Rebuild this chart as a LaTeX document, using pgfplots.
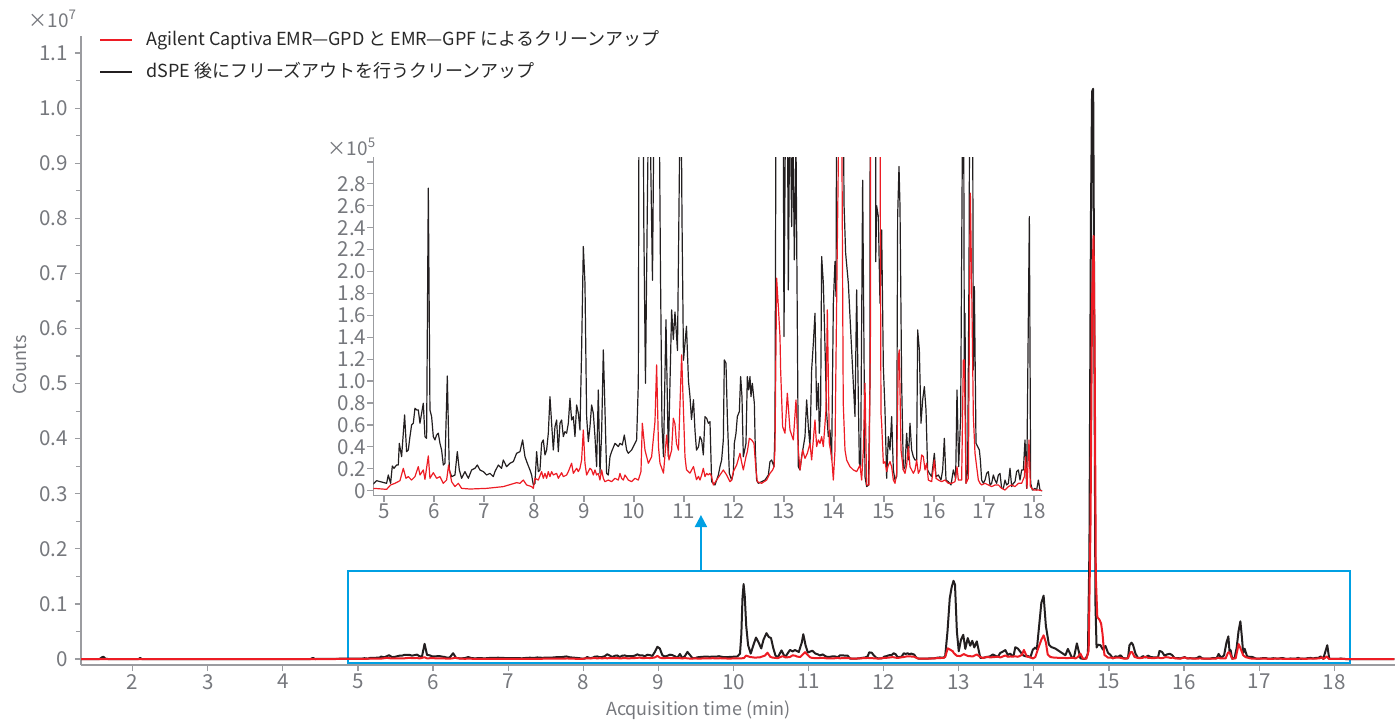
\documentclass[border=0pt]{standalone}
\usepackage{pgfplots}
\pgfplotsset{compat=1.18}
\usepackage{pgfplotstable}
\usepackage{fontspec}
\setmainfont{Noto Sans CJK JP}
\usetikzlibrary{arrows.meta}

\definecolor{chromred}{RGB}{237,28,36}
\definecolor{chromblack}{RGB}{35,31,32}
\definecolor{framecyan}{RGB}{0,160,227}
\definecolor{axisgray}{RGB}{155,156,160}
\definecolor{labelgray}{RGB}{118,120,125}
\definecolor{legendtext}{RGB}{40,40,40}

% dSPE + freeze-out clean-up (counts vs. minutes)
\pgfplotstableread{
t v
1.31 0
1.56 0
1.59 30000
1.61 40000
1.64 5000
1.67 0
2.08 0
2.10 20000
2.12 0
4.37 0
4.40 20000
4.43 0
4.70 3000
4.800 6700
4.853 9100
4.953 7900
5.053 6700
5.087 14300
5.133 6700
5.167 22500
5.200 20400
5.253 23400
5.287 23400
5.307 43200
5.353 31000
5.413 69100
5.453 35600
5.487 37100
5.520 49300
5.553 60000
5.587 61500
5.620 75200
5.653 73700
5.687 73700
5.720 61500
5.753 70600
5.787 79800
5.820 49300
5.853 47800
5.887 276100
5.920 73700
5.953 67600
5.987 49300
6.020 46300
6.053 50800
6.087 52400
6.120 43200
6.153 37100
6.187 23400
6.220 25000
6.267 104700
6.307 18900
6.353 12800
6.420 14300
6.467 35600
6.507 18900
6.553 11300
6.620 17400
6.687 11300
6.753 18900
6.820 20400
6.867 23400
6.920 18900
6.987 17400
7.053 14300
7.120 15800
7.187 12800
7.220 17400
7.287 23400
7.353 20400
7.387 28000
7.453 21900
7.520 25000
7.587 26500
7.653 34100
7.720 35600
7.773 46300
7.820 31000
7.867 25000
7.920 18900
7.953 14300
7.987 5200
8.020 6700
8.053 35600
8.087 17400
8.120 18900
8.153 43200
8.187 46300
8.220 32600
8.253 37100
8.287 52400
8.320 85800
8.353 61500
8.387 37100
8.420 58400
8.453 64500
8.487 35600
8.520 61500
8.553 64500
8.587 49300
8.620 53900
8.653 52400
8.687 61500
8.720 84300
8.753 64500
8.787 67600
8.820 49300
8.853 78200
8.887 70600
8.920 55400
8.953 128500
8.987 222800
9.020 189300
9.053 67600
9.087 44700
9.120 58400
9.153 78200
9.187 70600
9.220 49300
9.253 21900
9.287 91900
9.320 15800
9.353 52400
9.387 128500
9.420 73700
9.453 15800
9.487 14300
9.520 31000
9.553 35600
9.620 43200
9.687 40200
9.720 43200
9.767 41700
9.807 50800
9.853 37100
9.887 34100
9.953 37100
10.020 43200
10.053 46300
10.087 98000
10.105 450000
10.120 1100000
10.135 1360000
10.150 1150000
10.170 600000
10.195 250000
10.230 98000
10.265 250000
10.300 390000
10.335 300000
10.370 192000
10.400 350000
10.440 470000
10.470 400000
10.500 380000
10.530 200000
10.560 60000
10.590 31000
10.640 156000
10.687 31000
10.753 165000
10.787 138000
10.820 163000
10.870 128000
10.910 300000
10.930 450000
10.960 250000
10.990 119000
11.050 150000
11.090 100000
11.120 86000
11.150 65000
11.190 83000
11.220 55000
11.250 37000
11.290 40000
11.320 49300
11.353 46300
11.387 32600
11.420 67600
11.453 66100
11.487 61500
11.520 63000
11.553 8200
11.587 6700
11.620 5200
11.653 9700
11.687 14300
11.720 21900
11.753 28000
11.787 46300
11.807 119300
11.840 116300
11.867 67600
11.907 15800
11.953 9700
11.987 15800
12.007 43200
12.040 52400
12.067 67600
12.107 72100
12.133 104100
12.160 85800
12.187 31000
12.240 43200
12.267 104100
12.293 91900
12.320 104100
12.340 85800
12.367 98000
12.387 88900
12.407 79800
12.427 37100
12.453 9700
12.487 6700
12.553 8200
12.620 9700
12.687 14300
12.720 26500
12.753 28000
12.800 21900
12.820 58400
12.850 500000
12.880 1100000
12.905 1300000
12.930 1420000
12.950 1350000
12.975 500000
13.000 140600
13.030 350000
13.060 440000
13.087 183200
13.120 380000
13.153 241000
13.180 330000
13.207 210600
13.240 320000
13.287 21900
13.320 18900
13.353 31000
13.387 40200
13.420 49300
13.453 82800
13.487 58400
13.520 40200
13.553 110200
13.587 134500
13.620 161900
13.653 73700
13.687 98000
13.707 52400
13.733 76700
13.753 213700
13.787 189300
13.820 131500
13.853 70600
13.887 49300
13.920 55400
13.953 28000
13.987 171100
14.020 209100
14.040 177200
14.070 600000
14.100 1020000
14.130 1150000
14.160 600000
14.200 262400
14.233 216700
14.287 189300
14.353 128500
14.420 67600
14.453 183200
14.507 25000
14.533 21900
14.573 283300
14.620 12800
14.653 3700
14.690 5000
14.720 100000
14.740 2000000
14.760 8000000
14.775 10300000
14.790 10350000
14.805 6000000
14.820 1000000
14.835 209000
14.853 260000
14.887 250000
14.920 171000
14.953 238000
14.987 113000
15.020 73700
15.053 11300
15.087 49300
15.120 37100
15.153 67600
15.187 18900
15.220 9700
15.253 12800
15.273 250200
15.300 295900
15.320 259300
15.353 98000
15.387 18900
15.420 21900
15.453 52400
15.487 28000
15.520 61500
15.553 37100
15.587 31000
15.620 28000
15.653 28000
15.673 146700
15.707 128500
15.740 61500
15.773 82800
15.807 95000
15.840 73700
15.873 18900
15.907 15800
15.953 12800
16.007 34100
16.040 12800
16.087 14300
16.140 9700
16.173 18900
16.207 47800
16.240 9700
16.287 8200
16.340 5200
16.387 18900
16.433 11300
16.460 91900
16.493 21900
16.533 67600
16.565 300000
16.590 410000
16.607 110200
16.620 161900
16.640 6700
16.673 18900
16.700 200000
16.725 500000
16.750 685000
16.770 400000
16.787 110200
16.807 186300
16.840 43200
16.873 40200
16.907 37100
16.927 28000
16.953 9700
16.987 6700
17.020 9700
17.053 15800
17.087 17400
17.120 5200
17.153 6700
17.187 14300
17.220 9700
17.253 6700
17.287 14300
17.320 15800
17.353 2100
17.387 2100
17.420 9700
17.453 5200
17.487 6700
17.520 20400
17.553 3700
17.587 6700
17.620 8200
17.653 17400
17.687 18900
17.720 9700
17.753 18900
17.787 18900
17.820 46300
17.853 2100
17.887 158900
17.907 250200
17.933 6700
17.967 600
18.020 2100
18.053 600
18.087 9700
18.120 600
18.153 0
18.300 0
18.800 0
}\blacktrace

% Captiva EMR-GPD + EMR-GPF clean-up (counts vs. minutes)
\pgfplotstableread{
t v
1.31 0
4.70 0
4.800 2100
5.053 1200
5.133 5200
5.220 6700
5.320 9100
5.387 20400
5.440 11300
5.487 12800
5.553 9700
5.620 12800
5.687 21900
5.720 14300
5.787 18900
5.820 10300
5.887 31700
5.920 11300
5.987 16400
6.053 11300
6.120 12800
6.187 6700
6.253 9700
6.293 23400
6.353 8200
6.420 3700
6.487 6700
6.553 2100
6.720 1500
7.053 2100
7.387 3700
7.653 7300
7.720 6700
7.787 9700
7.853 5200
7.953 3700
7.987 2100
8.020 11300
8.087 9700
8.153 17400
8.187 11300
8.220 15800
8.253 11300
8.287 17400
8.320 12800
8.353 17400
8.387 14300
8.453 15800
8.487 11300
8.553 16400
8.587 12800
8.653 14300
8.687 17400
8.753 25000
8.787 15800
8.853 20400
8.887 17400
8.920 20400
8.953 28000
8.987 55400
9.020 25000
9.053 14300
9.120 20400
9.153 18900
9.187 14300
9.220 18900
9.253 14300
9.287 15800
9.320 9700
9.353 18900
9.387 11300
9.420 8200
9.487 9700
9.553 8200
9.620 11300
9.687 9700
9.720 15800
9.753 11300
9.787 9700
9.820 14300
9.887 9700
9.953 8200
10.020 11300
10.087 9700
10.140 17400
10.167 61500
10.220 37100
10.287 25000
10.353 31000
10.420 63000
10.453 114800
10.490 40000
10.520 25000
10.590 16000
10.653 50800
10.700 28000
10.753 37000
10.787 66100
10.820 61000
10.850 43000
10.890 37000
10.953 124000
11.020 31000
11.050 19000
11.120 16000
11.190 22000
11.250 10000
11.290 13000
11.320 9700
11.353 14300
11.387 20400
11.420 12800
11.453 15800
11.487 14300
11.520 15800
11.553 12800
11.587 5200
11.653 9700
11.720 14300
11.787 18900
11.853 14300
11.920 8200
11.953 9700
11.987 17400
12.053 23400
12.120 34100
12.153 25900
12.187 18900
12.240 31000
12.267 35600
12.307 47800
12.353 46300
12.400 43200
12.440 18900
12.467 8200
12.553 6700
12.653 9700
12.720 15800
12.773 18900
12.800 21900
12.820 37100
12.853 193900
12.887 168000
12.920 140600
12.933 110200
12.973 58400
13.020 52400
13.067 88900
13.120 55400
13.187 46300
13.240 82800
13.287 37100
13.320 18900
13.373 37100
13.420 29500
13.467 34100
13.520 43200
13.553 28000
13.620 64500
13.653 40200
13.687 46300
13.720 43200
13.753 49300
13.787 40200
13.840 73700
13.867 165000
13.907 43200
13.953 31000
13.987 9700
14.020 37100
14.060 200000
14.100 350000
14.130 430000
14.160 300000
14.185 80000
14.220 37100
14.253 28000
14.320 21900
14.387 18900
14.453 17400
14.520 23400
14.553 9700
14.587 37100
14.620 98000
14.653 5200
14.700 5200
14.730 150000
14.755 2500000
14.775 6500000
14.795 7680000
14.810 5500000
14.825 1500000
14.845 760000
14.870 720000
14.895 650000
14.915 450000
14.930 200000
14.940 70600
14.953 61500
14.987 25000
15.020 26500
15.053 17400
15.087 23400
15.120 26500
15.153 21900
15.187 9700
15.220 6700
15.253 15800
15.287 122400
15.307 128500
15.340 37100
15.387 18900
15.420 15800
15.453 23400
15.487 40200
15.520 21900
15.553 18900
15.587 15800
15.620 18900
15.653 28000
15.687 15800
15.720 18900
15.753 32600
15.787 31000
15.820 18900
15.853 25000
15.887 9700
15.953 8200
16.007 28000
16.040 11300
16.087 9700
16.153 8200
16.220 9700
16.287 6700
16.353 6700
16.420 8200
16.460 21900
16.487 9700
16.553 9700
16.587 119300
16.607 119300
16.640 6700
16.687 11300
16.727 271500
16.753 189300
16.787 67600
16.820 34100
16.853 21900
16.887 9700
16.920 6700
16.953 5200
17.020 6700
17.087 5200
17.153 3700
17.220 5200
17.287 5200
17.353 2100
17.420 600
17.487 3700
17.553 5200
17.620 3700
17.687 6700
17.753 6700
17.807 12800
17.833 31000
17.860 2100
17.900 46300
17.927 3700
17.987 600
18.087 600
18.153 0
18.800 0
}\redtrace

\pgfplotsset{
  chromaxis/.style={
    scale only axis,
    clip mode=individual,
    axis lines=left,
    axis line style={axisgray, line width=0.7pt, -},
    tick style={axisgray, line width=0.6pt},
    tick align=outside,
    major tick length=3pt,
    minor tick length=2.5pt,
    scaled x ticks=false,
    scaled y ticks=false,
    /pgf/number format/assume math mode=true,
    tick label style={font=\fontsize{10.3}{12}\selectfont, text=labelgray},
  },
}

\begin{document}
\begin{tikzpicture}
\path[use as bounding box] (0pt,0pt) rectangle (698.5pt,360pt);

% full chromatogram
\begin{axis}[
  chromaxis,
  at={(40.5pt,27.5pt)}, anchor=south west,
  width=657pt, height=314.5pt,
  xmin=1.312, xmax=18.809,
  ymin=-109000, ymax=11309000,
  xtick={2,3,4,5,6,7,8,9,10,11,12,13,14,15,16,17,18},
  ytick={0,1e6,2e6,3e6,4e6,5e6,6e6,7e6,8e6,9e6,1e7,1.1e7},
  yticklabels={0,0.1,0.2,0.3,0.4,0.5,0.6,0.7,0.8,0.9,1.0,1.1},
  minor ytick={5e5,1.5e6,2.5e6,3.5e6,4.5e6,5.5e6,6.5e6,7.5e6,8.5e6,9.5e6,1.05e7},
  xticklabel style={yshift=2pt},
  xlabel={Acquisition time (min)},
  ylabel={Counts},
  every axis x label/.style={at={(axis description cs:0.470,-0.0715)}, anchor=center,
    font=\fontsize{9}{11}\selectfont, text=labelgray},
  every axis y label/.style={at={(axis description cs:-0.0464,0.477)}, anchor=center,
    rotate=90, font=\fontsize{9}{11}\selectfont, text=labelgray},
  legend style={at={(axis description cs:0.0135,0.9675)}, anchor=west, draw=none, fill=none,
    font=\fontsize{9}{11}\selectfont, text=legendtext, inner sep=0pt,
    row sep=7pt, column sep=6.5pt,
    nodes={inner sep=0pt, text height=7pt, text depth=2pt}},
  legend cell align=left,
  reverse legend,
  legend image code/.code={\draw[#1, line width=1pt] (0pt,0pt) -- (16pt,0pt);},
]
\draw[framecyan, line width=1pt] (axis cs:4.871,-67000) rectangle (axis cs:18.209,1603000);
\draw[framecyan, line width=1pt, -{Triangle[length=6pt,width=6pt]}]
  (axis cs:9.567,1603000) -- (axis cs:9.567,2614000);
\addplot[chromblack, line width=1pt, line join=round] table[x=t, y=v] {\blacktrace};
\addlegendentry{dSPE 後にフリーズアウトを行うクリーンアップ}
\addplot[chromred, line width=1pt, line join=round] table[x=t, y=v] {\redtrace};
\addlegendentry{Agilent Captiva EMR—GPD と EMR—GPF によるクリーンアップ}
\node[text=labelgray, font=\fontsize{9.5}{11}\selectfont] at (axis description cs:-0.0215,1.0270) {×10\textsuperscript{7}};
\end{axis}

% enlarged view of the low-intensity region
\begin{axis}[
  chromaxis,
  at={(186.65pt,112.15pt)}, anchor=south west,
  width=334.35pt, height=169.35pt,
  xmin=4.787, xmax=18.16,
  ymin=-4600, ymax=304500,
  xtick={5,6,7,8,9,10,11,12,13,14,15,16,17,18},
  ytick={0,20000,40000,60000,80000,100000,120000,140000,160000,180000,200000,220000,240000,260000,280000,300000},
  yticklabels={0,0.2,0.4,0.6,0.8,1.0,1.2,1.4,1.6,1.8,2.0,2.2,2.4,2.6,2.8,{}},
  yticklabel style={xshift=3pt},
  xticklabel style={yshift=2.5pt},
]
\addplot[chromblack, line width=0.6pt, line join=round] table[x=t, y=v] {\blacktrace};
\addplot[chromred, line width=0.6pt, line join=round] table[x=t, y=v] {\redtrace};
\node[text=labelgray, font=\fontsize{9.5}{11}\selectfont] at (axis description cs:-0.0319,1.0295) {×10\textsuperscript{5}};
\end{axis}
\end{tikzpicture}
\end{document}
